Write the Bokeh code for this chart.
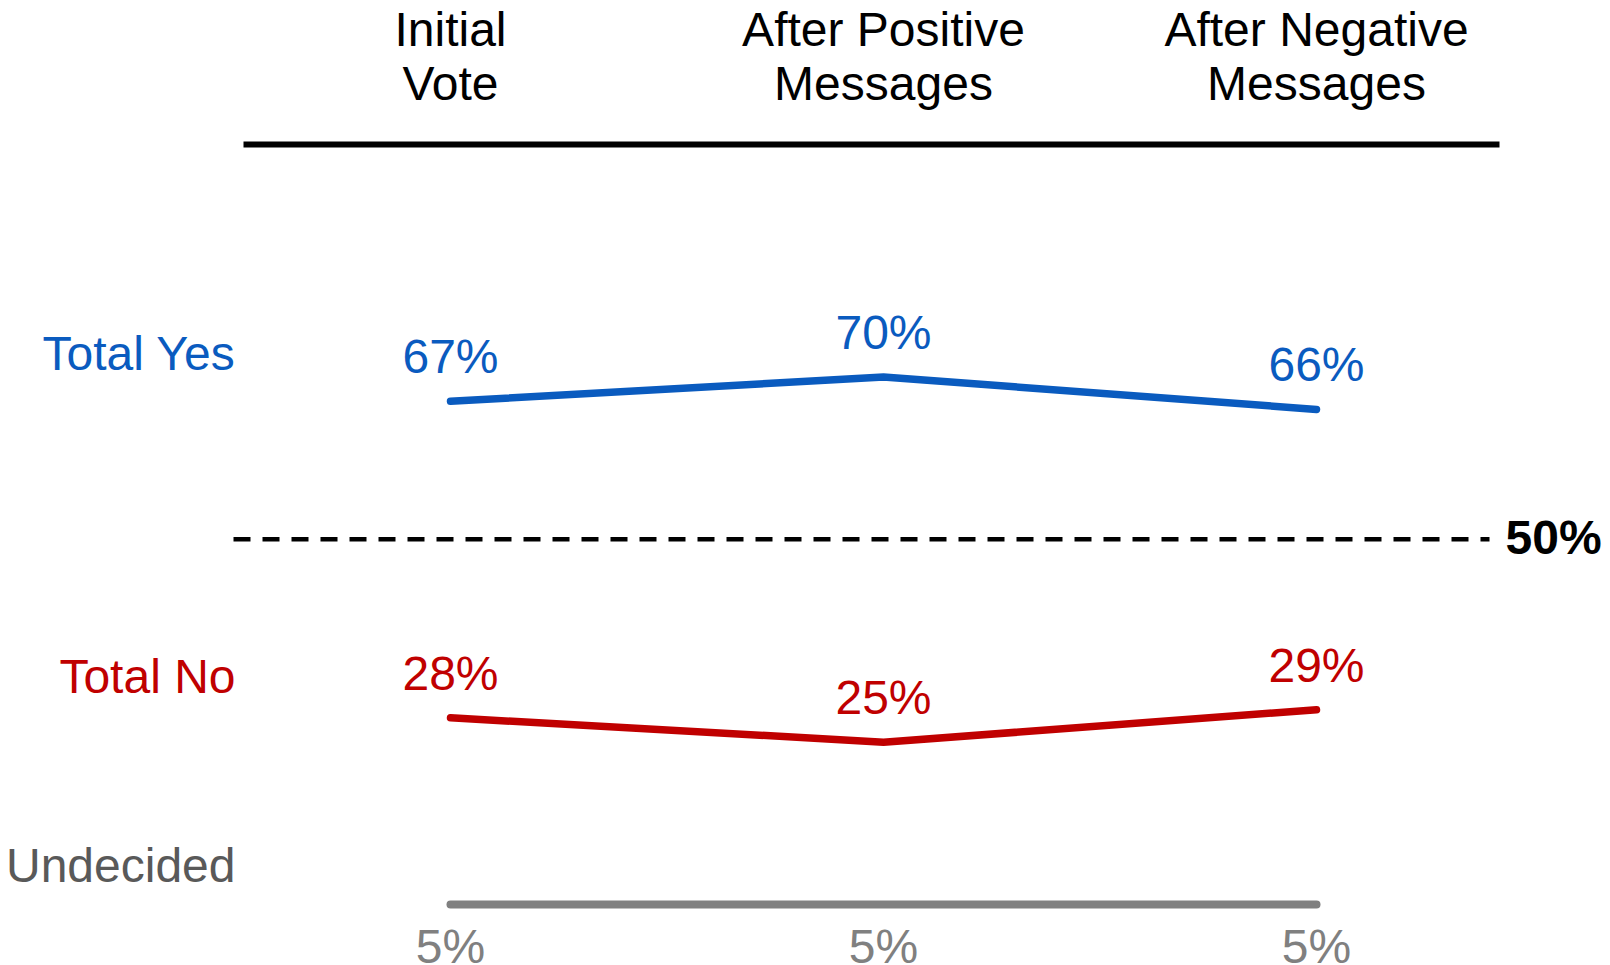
from bokeh.plotting import figure
from bokeh.models import Range1d, ColumnDataSource
from bokeh.core.properties import value
from bokeh.embed import file_html
from bokeh.resources import INLINE

# ---------------- data ----------------
categories = ["Initial\nVote", "After Positive\nMessages", "After Negative\nMessages"]
series_names = ["Total Yes", "Total No", "Undecided"]
yes_values = [67, 70, 66]
no_values = [28, 25, 29]
undecided_values = [5, 5, 5]
threshold = 50
threshold_label = "50%"

# ---------------- layout / style ----------------
W, H = 1610, 965
X0_PAGE, X_STEP = 450.0, 433.0          # page x of first category, px per category
Y50_PAGE, Y_STEP = 538.8, 8.116          # page y of 50%, px per percentage point
TDY = -16.5                              # baseline correction for text rendering

x_start = -X0_PAGE / X_STEP
x_end = x_start + W / X_STEP
y_top = threshold + Y50_PAGE / Y_STEP
y_bottom = y_top - H / Y_STEP


def xv(page_x):
    return x_start + page_x / X_STEP


def yv(page_y):
    return y_top - page_y / Y_STEP


FONT = value("Liberation Sans")
FS = "48px"
BLUE = "#0A5BBF"
RED = "#C00000"
GRAY_LINE = "#808080"
GRAY_TEXT = "#595959"
GRAY_VAL = "#808080"

p = figure(width=W, height=H, x_range=Range1d(x_start, x_end), y_range=Range1d(y_bottom, y_top),
           output_backend="svg", toolbar_location=None,
           x_axis_location=None, y_axis_location=None, min_border=0)
p.grid.visible = False
p.outline_line_color = None
p.background_fill_color = "white"
p.border_fill_color = "white"

xs = list(range(len(categories)))

# header texts
line1 = [c.split("\n")[0] for c in categories]
line2 = [c.split("\n")[1] for c in categories]
p.text(x=xs, y=[yv(45)] * len(xs), y_offset=TDY, text=line1, text_font=FONT, text_font_size=FS,
       text_align="center", text_baseline="alphabetic", text_color="black")
p.text(x=xs, y=[yv(99)] * len(xs), y_offset=TDY, text=line2, text_font=FONT, text_font_size=FS,
       text_align="center", text_baseline="alphabetic", text_color="black")

# header rule
p.line(x=[xv(243), xv(1499)], y=[yv(144), yv(144)], line_color="black", line_width=6)

# threshold dashed line
p.line(x=[xv(233), xv(1489)], y=[threshold, threshold], line_color="black", line_width=4.5,
       line_dash="17 12")
p.text(x=[xv(1505)], y=[threshold], y_offset=14.5 + TDY, text=[threshold_label], text_font=FONT,
       text_font_size=FS, text_font_style="bold", text_align="left",
       text_baseline="alphabetic", text_color="black")

# series lines
for vals, col, lw in [(yes_values, BLUE, 7.5), (no_values, RED, 7.5), (undecided_values, GRAY_LINE, 8)]:
    p.line(x=xs, y=vals, line_color=col, line_width=lw, line_cap="round", line_join="round")

# value labels
src_yes = ColumnDataSource(dict(x=xs, y=yes_values, t=[f"{v}%" for v in yes_values]))
src_no = ColumnDataSource(dict(x=xs, y=no_values, t=[f"{v}%" for v in no_values]))
src_und = ColumnDataSource(dict(x=xs, y=undecided_values, t=[f"{v}%" for v in undecided_values]))
p.text(x="x", y="y", text="t", source=src_yes, y_offset=-28 + TDY, text_font=FONT, text_font_size=FS,
       text_align="center", text_baseline="alphabetic", text_color=BLUE)
p.text(x="x", y="y", text="t", source=src_no, y_offset=-28 + TDY, text_font=FONT, text_font_size=FS,
       text_align="center", text_baseline="alphabetic", text_color=RED)
p.text(x="x", y="y", text="t", source=src_und, y_offset=58 + TDY, text_font=FONT, text_font_size=FS,
       text_align="center", text_baseline="alphabetic", text_color=GRAY_VAL)

# row labels
p.text(x=[xv(235)] * 3, y=[yv(369), yv(692), yv(881)], y_offset=TDY, text=series_names,
       text_color=[BLUE, RED, GRAY_TEXT], text_font=FONT, text_font_size=FS,
       text_align="right", text_baseline="alphabetic")

open("out.html", "w").write(file_html(p, INLINE))
